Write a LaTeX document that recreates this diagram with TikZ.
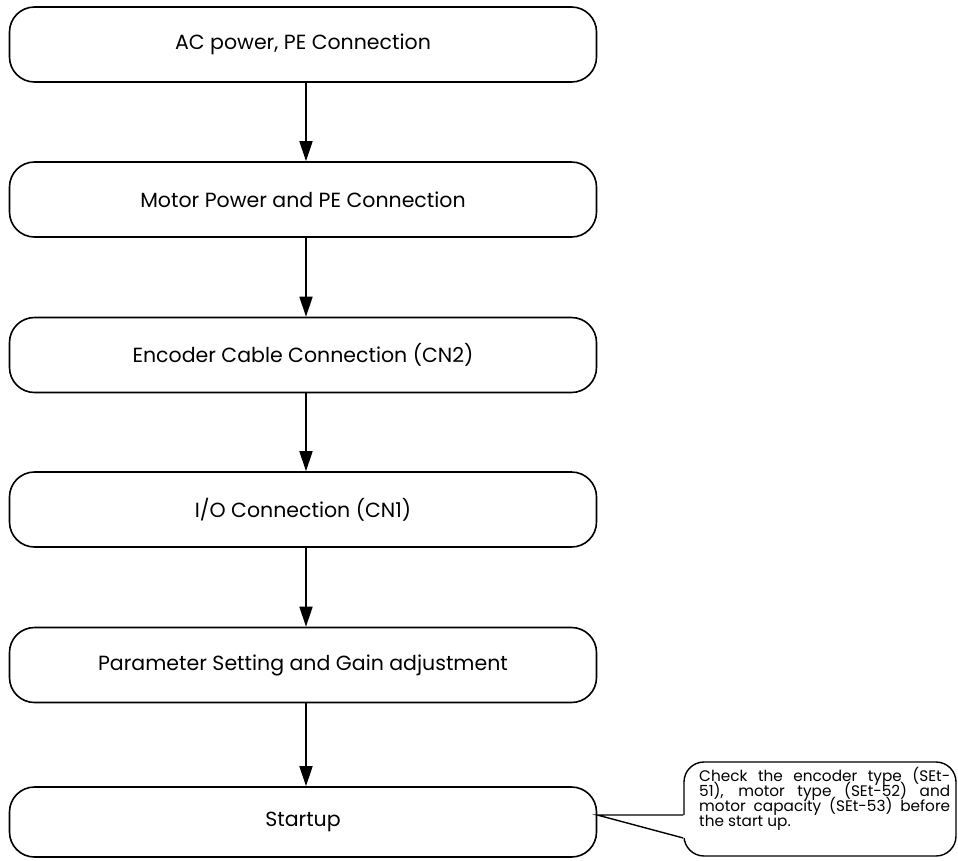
\documentclass[tikz,border=0pt]{standalone}
\usepackage{fontspec}
\setmainfont{Poppins}
\usetikzlibrary{arrows.meta}
\newcommand\notesetup{\fontsize{15.3}{15}\selectfont\lineskiplimit=-20pt\relax\lineskip=0pt\relax}
\begin{document}
\begin{tikzpicture}[x=1pt,y=-1pt,
  stepbox/.style={draw=black, line width=1.6pt, rounded corners=25pt,
    minimum width=587pt, minimum height=75pt, inner sep=0pt,
    font=\fontsize{20.5}{24}\selectfont},
  flow/.style={line width=1.6pt, -{Triangle[length=20pt,width=13pt]}},
  note/.style={font=\notesetup}]
\useasboundingbox (0,0) rectangle (958,860);
\node[stepbox] (b1) at (303,44.5) {AC power, PE Connection};
\node[stepbox] (b2) at (303,199.5) {Motor Power and PE Connection};
\node[stepbox] (b3) at (303,355) {Encoder Cable Connection (CN2)};
\node[stepbox] (b4) at (303,509.5) {I/O Connection (CN1)};
\node[stepbox] (b5) at (303,665) {Parameter Setting and Gain adjustment};
\node[stepbox, minimum height=70pt] (b6) at (303,822) {Startup};
\foreach \a/\b in {b1/b2,b2/b3,b3/b4,b4/b5,b5/b6}
  \draw[flow] ([xshift=3pt]\a.south) -- ([xshift=3pt]\b.north);
% callout attached to the Startup step
\node[draw=black, line width=1.4pt, rounded corners=20pt, minimum width=272pt,
  minimum height=94pt, inner sep=0pt] (call) at (820,809) {};
\coordinate (tip) at (b6.east |- 0,815);
\coordinate (c1) at (call.west |- 0,815);
\coordinate (c2) at (call.west |- 0,838);
\fill[white] ([xshift=-1pt]c1) rectangle ([xshift=1.5pt]c2);
\draw[line width=1.4pt, line join=miter] (c1) -- (tip) -- (c2);
\node[note, text width=251pt, align=justify, anchor=north west, inner sep=0pt] (txt) at (699,767)
  {Check the encoder type (SEt-\linebreak 51), motor type (SEt-52) and\linebreak motor capacity (SEt-53) before\linebreak the start up.};
\end{tikzpicture}
\end{document}
